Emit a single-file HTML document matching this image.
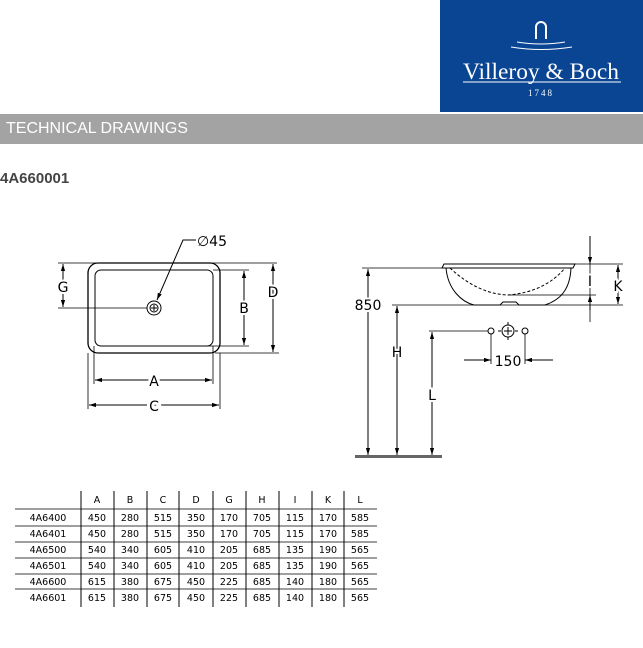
<!DOCTYPE html>
<html><head><meta charset="utf-8"><style>
body{margin:0;width:643px;height:648px;background:#fff;position:relative;overflow:hidden;font-family:"Liberation Sans",sans-serif}
.logo{position:absolute;left:440px;top:0;width:203px;height:112px;background:#0a4593}
.bar{position:absolute;left:0;top:114px;width:643px;height:30px;background:#a3a3a3;color:#fff;font-size:16px;line-height:30px;padding-left:6px;box-sizing:border-box}
.code{position:absolute;left:0;top:170px;font-size:15px;font-weight:bold;color:#444}
svg{position:absolute;left:0;top:0}
</style></head><body>
<div class="logo"></div>
<div class="bar">TECHNICAL DRAWINGS</div>
<div class="code">4A660001</div>
<svg width="643" height="648" viewBox="0 0 643 648">
<defs><marker id="a" viewBox="0 0 10 10" refX="10" refY="5" markerWidth="7" markerHeight="7" orient="auto-start-reverse"><path d="M0,2L10,5L0,8z" fill="#000"/></marker></defs>
<g fill="none" stroke="#fff">
<path d="M536,39V27a5,5 0 0 1 10,0V39" stroke-width="2"/>
<path d="M517,42Q541,46 565,42M511,47Q541,52 572,47" stroke-width="1"/>
<line x1="463" y1="82" x2="621" y2="82" stroke-width="1"/>
</g>
<text x="541" y="79" fill="#fff" font-family="Liberation Serif,serif" font-size="23" text-anchor="middle" textLength="156" lengthAdjust="spacingAndGlyphs">Villeroy &amp; Boch</text>
<text x="541" y="96" fill="#fff" font-family="Liberation Serif,serif" font-size="9" letter-spacing="2" text-anchor="middle">1748</text>
<g stroke="#000" fill="none" stroke-width="1">
<rect x="88" y="263" width="132" height="90" rx="10" stroke-width="1.3"/>
<rect x="95" y="270" width="118" height="76" rx="6"/>
<circle cx="154" cy="308" r="7"/><circle cx="154" cy="308" r="4"/>
<path d="M151,308h6M154,305v6"/>
<path d="M196,240H183L157,300" marker-end="url(#a)"/>
<path d="M58,263H277M58,308H147M213,270H249M155,346H249M215,353H279" stroke-width=".8"/>
<path d="M94,346V384M213,346V384M88,353V409M220,353V409" stroke-width=".8"/>
<line x1="63" y1="264" x2="63" y2="307" marker-start="url(#a)" marker-end="url(#a)"/>
<line x1="244" y1="271" x2="244" y2="345" marker-start="url(#a)" marker-end="url(#a)"/>
<line x1="273" y1="264" x2="273" y2="352" marker-start="url(#a)" marker-end="url(#a)"/>
<line x1="95" y1="380" x2="212" y2="380" marker-start="url(#a)" marker-end="url(#a)"/>
<line x1="89" y1="405" x2="219" y2="405" marker-start="url(#a)" marker-end="url(#a)"/>
<path d="M442,268L444,264H575L573,268Z"/>
<path d="M446,268C448,290 462,302 474,305H500L503,302H516L519,305H545C560,300 570,290 571,268"/>
<path d="M450,268Q478,294 508,295Q545,292 565,268" stroke-dasharray="3,2"/>
<path d="M508,295H596M575,264H623M362,268H442M392,305H623M429,331H488" stroke-width=".8"/>
<line x1="590" y1="236" x2="590" y2="322" stroke-width=".8"/>
<path d="M590,236V264" marker-end="url(#a)"/>
<path d="M590,310V295" marker-end="url(#a)"/>
<line x1="618" y1="265" x2="618" y2="304" marker-start="url(#a)" marker-end="url(#a)"/>
<line x1="368" y1="269" x2="368" y2="455" marker-start="url(#a)" marker-end="url(#a)"/>
<line x1="397" y1="306" x2="397" y2="455" marker-start="url(#a)" marker-end="url(#a)"/>
<line x1="432" y1="332" x2="432" y2="455" marker-start="url(#a)" marker-end="url(#a)"/>
<circle cx="491" cy="331" r="3"/><circle cx="525" cy="331" r="3"/>
<circle cx="508" cy="331" r="6"/><path d="M504,331h8M508,327v8M508,322v3M508,337v3M498,331h3M515,331h3"/>
<path d="M491,334V364M525,334V364" stroke-width=".8"/>
<path d="M464,360H491" marker-end="url(#a)"/>
<path d="M553,360H525" marker-end="url(#a)"/>
</g>
<rect x="355" y="455" width="87" height="3" fill="#666"/>
<g font-family="DejaVu Sans,sans-serif" font-size="14" text-anchor="middle" fill="#000">
<text x="212" y="246">∅45</text>
<text x="63" y="292" style="paint-order:stroke" stroke="#fff" stroke-width="4">G</text>
<text x="244" y="313" style="paint-order:stroke" stroke="#fff" stroke-width="4">B</text>
<text x="273" y="297" style="paint-order:stroke" stroke="#fff" stroke-width="4">D</text>
<text x="154" y="386" style="paint-order:stroke" stroke="#fff" stroke-width="6">A</text>
<text x="154" y="411" style="paint-order:stroke" stroke="#fff" stroke-width="6">C</text>
<text x="368" y="310" style="paint-order:stroke" stroke="#fff" stroke-width="4">850</text>
<text x="397" y="357" style="paint-order:stroke" stroke="#fff" stroke-width="4">H</text>
<text x="432" y="400" style="paint-order:stroke" stroke="#fff" stroke-width="4">L</text>
<text x="508" y="366" style="paint-order:stroke" stroke="#fff" stroke-width="4">150</text>
<text x="590" y="286" style="paint-order:stroke" stroke="#fff" stroke-width="4">I</text>
<text x="618" y="291" style="paint-order:stroke" stroke="#fff" stroke-width="4">K</text>
</g>
<g stroke="#000" stroke-width="1">
<path d="M15,509H377M15,526H377M15,542H377M15,558H377M15,574H377M15,589H377" stroke-width=".8"/>
<path d="M81,491V607M114,491V607M147,491V607M179,491V607M213,491V607M246,491V607M279,491V607M312,491V607M344,491V607"/>
</g>
<g font-family="DejaVu Sans,sans-serif" font-size="9.5" text-anchor="middle" fill="#000">
<text x="97" y="503">A</text><text x="130" y="503">B</text><text x="163" y="503">C</text><text x="196" y="503">D</text><text x="229" y="503">G</text><text x="262" y="503">H</text><text x="295" y="503">I</text><text x="328" y="503">K</text><text x="360" y="503">L</text>
<text x="48" y="521">4A6400</text><text x="97" y="521">450</text><text x="130" y="521">280</text><text x="163" y="521">515</text><text x="196" y="521">350</text><text x="229" y="521">170</text><text x="262" y="521">705</text><text x="295" y="521">115</text><text x="328" y="521">170</text><text x="360" y="521">585</text>
<text x="48" y="537">4A6401</text><text x="97" y="537">450</text><text x="130" y="537">280</text><text x="163" y="537">515</text><text x="196" y="537">350</text><text x="229" y="537">170</text><text x="262" y="537">705</text><text x="295" y="537">115</text><text x="328" y="537">170</text><text x="360" y="537">585</text>
<text x="48" y="553">4A6500</text><text x="97" y="553">540</text><text x="130" y="553">340</text><text x="163" y="553">605</text><text x="196" y="553">410</text><text x="229" y="553">205</text><text x="262" y="553">685</text><text x="295" y="553">135</text><text x="328" y="553">190</text><text x="360" y="553">565</text>
<text x="48" y="569">4A6501</text><text x="97" y="569">540</text><text x="130" y="569">340</text><text x="163" y="569">605</text><text x="196" y="569">410</text><text x="229" y="569">205</text><text x="262" y="569">685</text><text x="295" y="569">135</text><text x="328" y="569">190</text><text x="360" y="569">565</text>
<text x="48" y="585">4A6600</text><text x="97" y="585">615</text><text x="130" y="585">380</text><text x="163" y="585">675</text><text x="196" y="585">450</text><text x="229" y="585">225</text><text x="262" y="585">685</text><text x="295" y="585">140</text><text x="328" y="585">180</text><text x="360" y="585">565</text>
<text x="48" y="601">4A6601</text><text x="97" y="601">615</text><text x="130" y="601">380</text><text x="163" y="601">675</text><text x="196" y="601">450</text><text x="229" y="601">225</text><text x="262" y="601">685</text><text x="295" y="601">140</text><text x="328" y="601">180</text><text x="360" y="601">565</text>
</g>
</svg>
</body></html>
